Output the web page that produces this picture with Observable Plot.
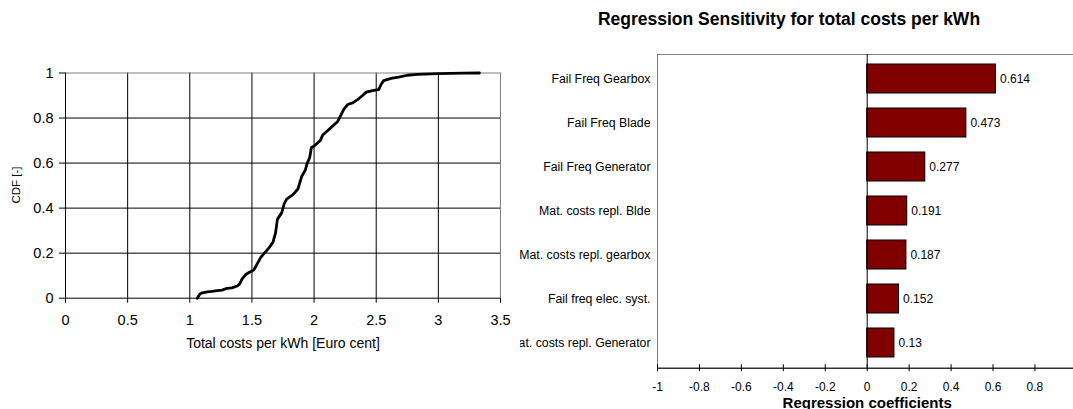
<!DOCTYPE html>
<html>
<head>
<meta charset="utf-8">
<script src="https://cdn.jsdelivr.net/npm/d3@7"></script>
<script src="https://cdn.jsdelivr.net/npm/@observablehq/plot@0.6"></script>
<style>
  body { margin: 0; background: #fff; font-family: "Liberation Sans", Arial, sans-serif; }
  #wrap { position: relative; width: 1073px; height: 409px; overflow: hidden; background: #fff; }
  #left { position: absolute; left: 0; top: 0; width: 520px; height: 409px; overflow: hidden; }
  #right { position: absolute; left: 520px; top: 0; width: 553px; height: 409px; overflow: hidden; }
  #title { position: absolute; left: 520px; top: 9px; width: 538px; text-align: center;
           font: bold 17.5px "Liberation Sans", Arial, sans-serif; color: #000; white-space: nowrap; }
</style>
</head>
<body>
<div id="wrap">
  <div id="left"></div>
  <div id="right"></div>
  <div id="title">Regression Sensitivity for total costs per kWh</div>
</div>
<script>
// ---- Left panel: CDF of total costs per kWh ----
const costs = [1.06, 1.08, 1.10, 1.14, 1.18, 1.22, 1.26, 1.30, 1.34, 1.38, 1.40, 1.42, 1.45, 1.48, 1.515,
  1.54, 1.57, 1.60, 1.64, 1.67, 1.69, 1.705, 1.74, 1.76, 1.78, 1.83, 1.87, 1.90, 1.93, 1.945, 1.965, 1.978,
  2.01, 2.05, 2.07, 2.11, 2.15, 2.19, 2.21, 2.24, 2.27, 2.31, 2.35, 2.39, 2.42, 2.47, 2.52, 2.54, 2.56,
  2.62, 2.68, 2.75, 2.83, 3.0, 3.2, 3.33];
const cdf = [0.0, 0.018, 0.024, 0.028, 0.030, 0.034, 0.036, 0.044, 0.046, 0.054, 0.062, 0.085, 0.105, 0.115, 0.125,
  0.150, 0.180, 0.200, 0.225, 0.250, 0.290, 0.350, 0.380, 0.420, 0.440, 0.460, 0.485, 0.540, 0.570, 0.600, 0.625, 0.668,
  0.680, 0.700, 0.725, 0.745, 0.765, 0.785, 0.806, 0.840, 0.860, 0.867, 0.882, 0.900, 0.915, 0.922, 0.926, 0.950, 0.966,
  0.976, 0.982, 0.990, 0.994, 0.997, 0.999, 1.0];
const costTicks = [0, 0.5, 1, 1.5, 2, 2.5, 3, 3.5];
const cdfTicks = [0, 0.2, 0.4, 0.6, 0.8, 1];
const costLabel = "Total costs per kWh [Euro cent]";
const cdfLabel = "CDF [-]";

// ---- Right panel: regression sensitivity ----
const factors = ["Fail Freq Gearbox", "Fail Freq Blade", "Fail Freq Generator", "Mat. costs repl. Blde",
  "Mat. costs repl. gearbox", "Fail freq elec. syst.", "Mat. costs repl. Generator"];
const coefs = [0.614, 0.473, 0.277, 0.191, 0.187, 0.152, 0.13];
const coefTicks = [-1, -0.8, -0.6, -0.4, -0.2, 0, 0.2, 0.4, 0.6, 0.8, 1];
const coefLabel = "Regression coefficients";

const FONT = '"Liberation Sans", Arial, sans-serif';
const cdfData = costs.map((c, i) => ({cost: c, p: cdf[i]}));
const barData = factors.map((f, i) => ({factor: f, coef: coefs[i]}));

// Left plot
const L = {w: 520, h: 360, ml: 65, mr: 20, mt: 72.5, mb: 62.3};
const left = Plot.plot({
  width: L.w, height: L.h,
  marginLeft: L.ml, marginRight: L.mr, marginTop: L.mt, marginBottom: L.mb,
  style: {fontFamily: FONT, background: "white", maxWidth: "none", color: "black"},
  x: {domain: [0, 3.5], label: null},
  y: {domain: [0, 1], label: null},
  marks: [
    Plot.gridX(costTicks.filter(d => d > 0 && d < 3.5), {stroke: "black", strokeOpacity: 1}),
    Plot.gridY(cdfTicks.filter(d => d > 0 && d < 1), {stroke: "black", strokeOpacity: 1}),
    Plot.ruleX([3.5], {stroke: "#808080"}),
    Plot.ruleY([1], {stroke: "#808080"}),
    Plot.ruleX([0], {stroke: "black"}),
    Plot.ruleY([0], {stroke: "black"}),
    Plot.axisX(costTicks, {tickSize: 5, tickPadding: 12, fontSize: 14.5, tickFormat: d => String(d), label: null}),
    Plot.axisY(cdfTicks, {tickSize: 6, tickPadding: 6, fontSize: 14.5, tickFormat: d => String(d), label: null}),
    Plot.line(cdfData, {x: "cost", y: "p", stroke: "black", strokeWidth: 2.8, strokeLinejoin: "round"}),
    Plot.text([costLabel], {frameAnchor: "bottom", dy: 45.5, fontSize: 14, lineAnchor: "middle"}),
    Plot.text([cdfLabel], {frameAnchor: "left", dx: -49, dy: 18, rotate: -90, fontSize: 11.5, lineAnchor: "middle"})
  ]
});
document.getElementById("left").appendChild(left);

// Right plot
const R = {w: 560, h: 409, ml: 137, mr: 3.6, mt: 54, mb: 41.3};
const innerH = R.h - R.mt - R.mb;
const right = Plot.plot({
  width: R.w, height: R.h,
  marginLeft: R.ml, marginRight: R.mr, marginTop: R.mt, marginBottom: R.mb,
  style: {fontFamily: FONT, background: "white", maxWidth: "none", color: "black", overflow: "visible"},
  x: {domain: [-1, 1], label: null},
  y: {domain: factors, paddingInner: 0.33, paddingOuter: 0.165, label: null},
  marks: [
    Plot.frame({stroke: "#808080"}),
    Plot.barX(barData, {x: "coef", y: "factor", fill: "#800000", stroke: "black", strokeWidth: 1}),
    Plot.ruleX([0], {stroke: "black"}),
    Plot.frame({fill: "black", stroke: null, insetTop: innerH - 0.5, insetBottom: -0.5}),
    Plot.ruleX(coefTicks, {stroke: "black", insetTop: innerH - 3.5, insetBottom: -3.5}),
    Plot.text(barData, {x: "coef", y: "factor", text: d => String(d.coef), textAnchor: "start", dx: 4, fontSize: 12}),
    Plot.axisX(coefTicks, {tickSize: 0, tickPadding: 14, fontSize: 12, tickFormat: d => String(d), label: null}),
    Plot.axisY(factors, {tickSize: 0, tickPadding: 7, fontSize: 12.3, label: null}),
    Plot.text([coefLabel], {frameAnchor: "bottom", dy: 35, fontSize: 15, fontWeight: "bold", lineAnchor: "middle"})
  ]
});
document.getElementById("right").appendChild(right);
</script>
</body>
</html>
